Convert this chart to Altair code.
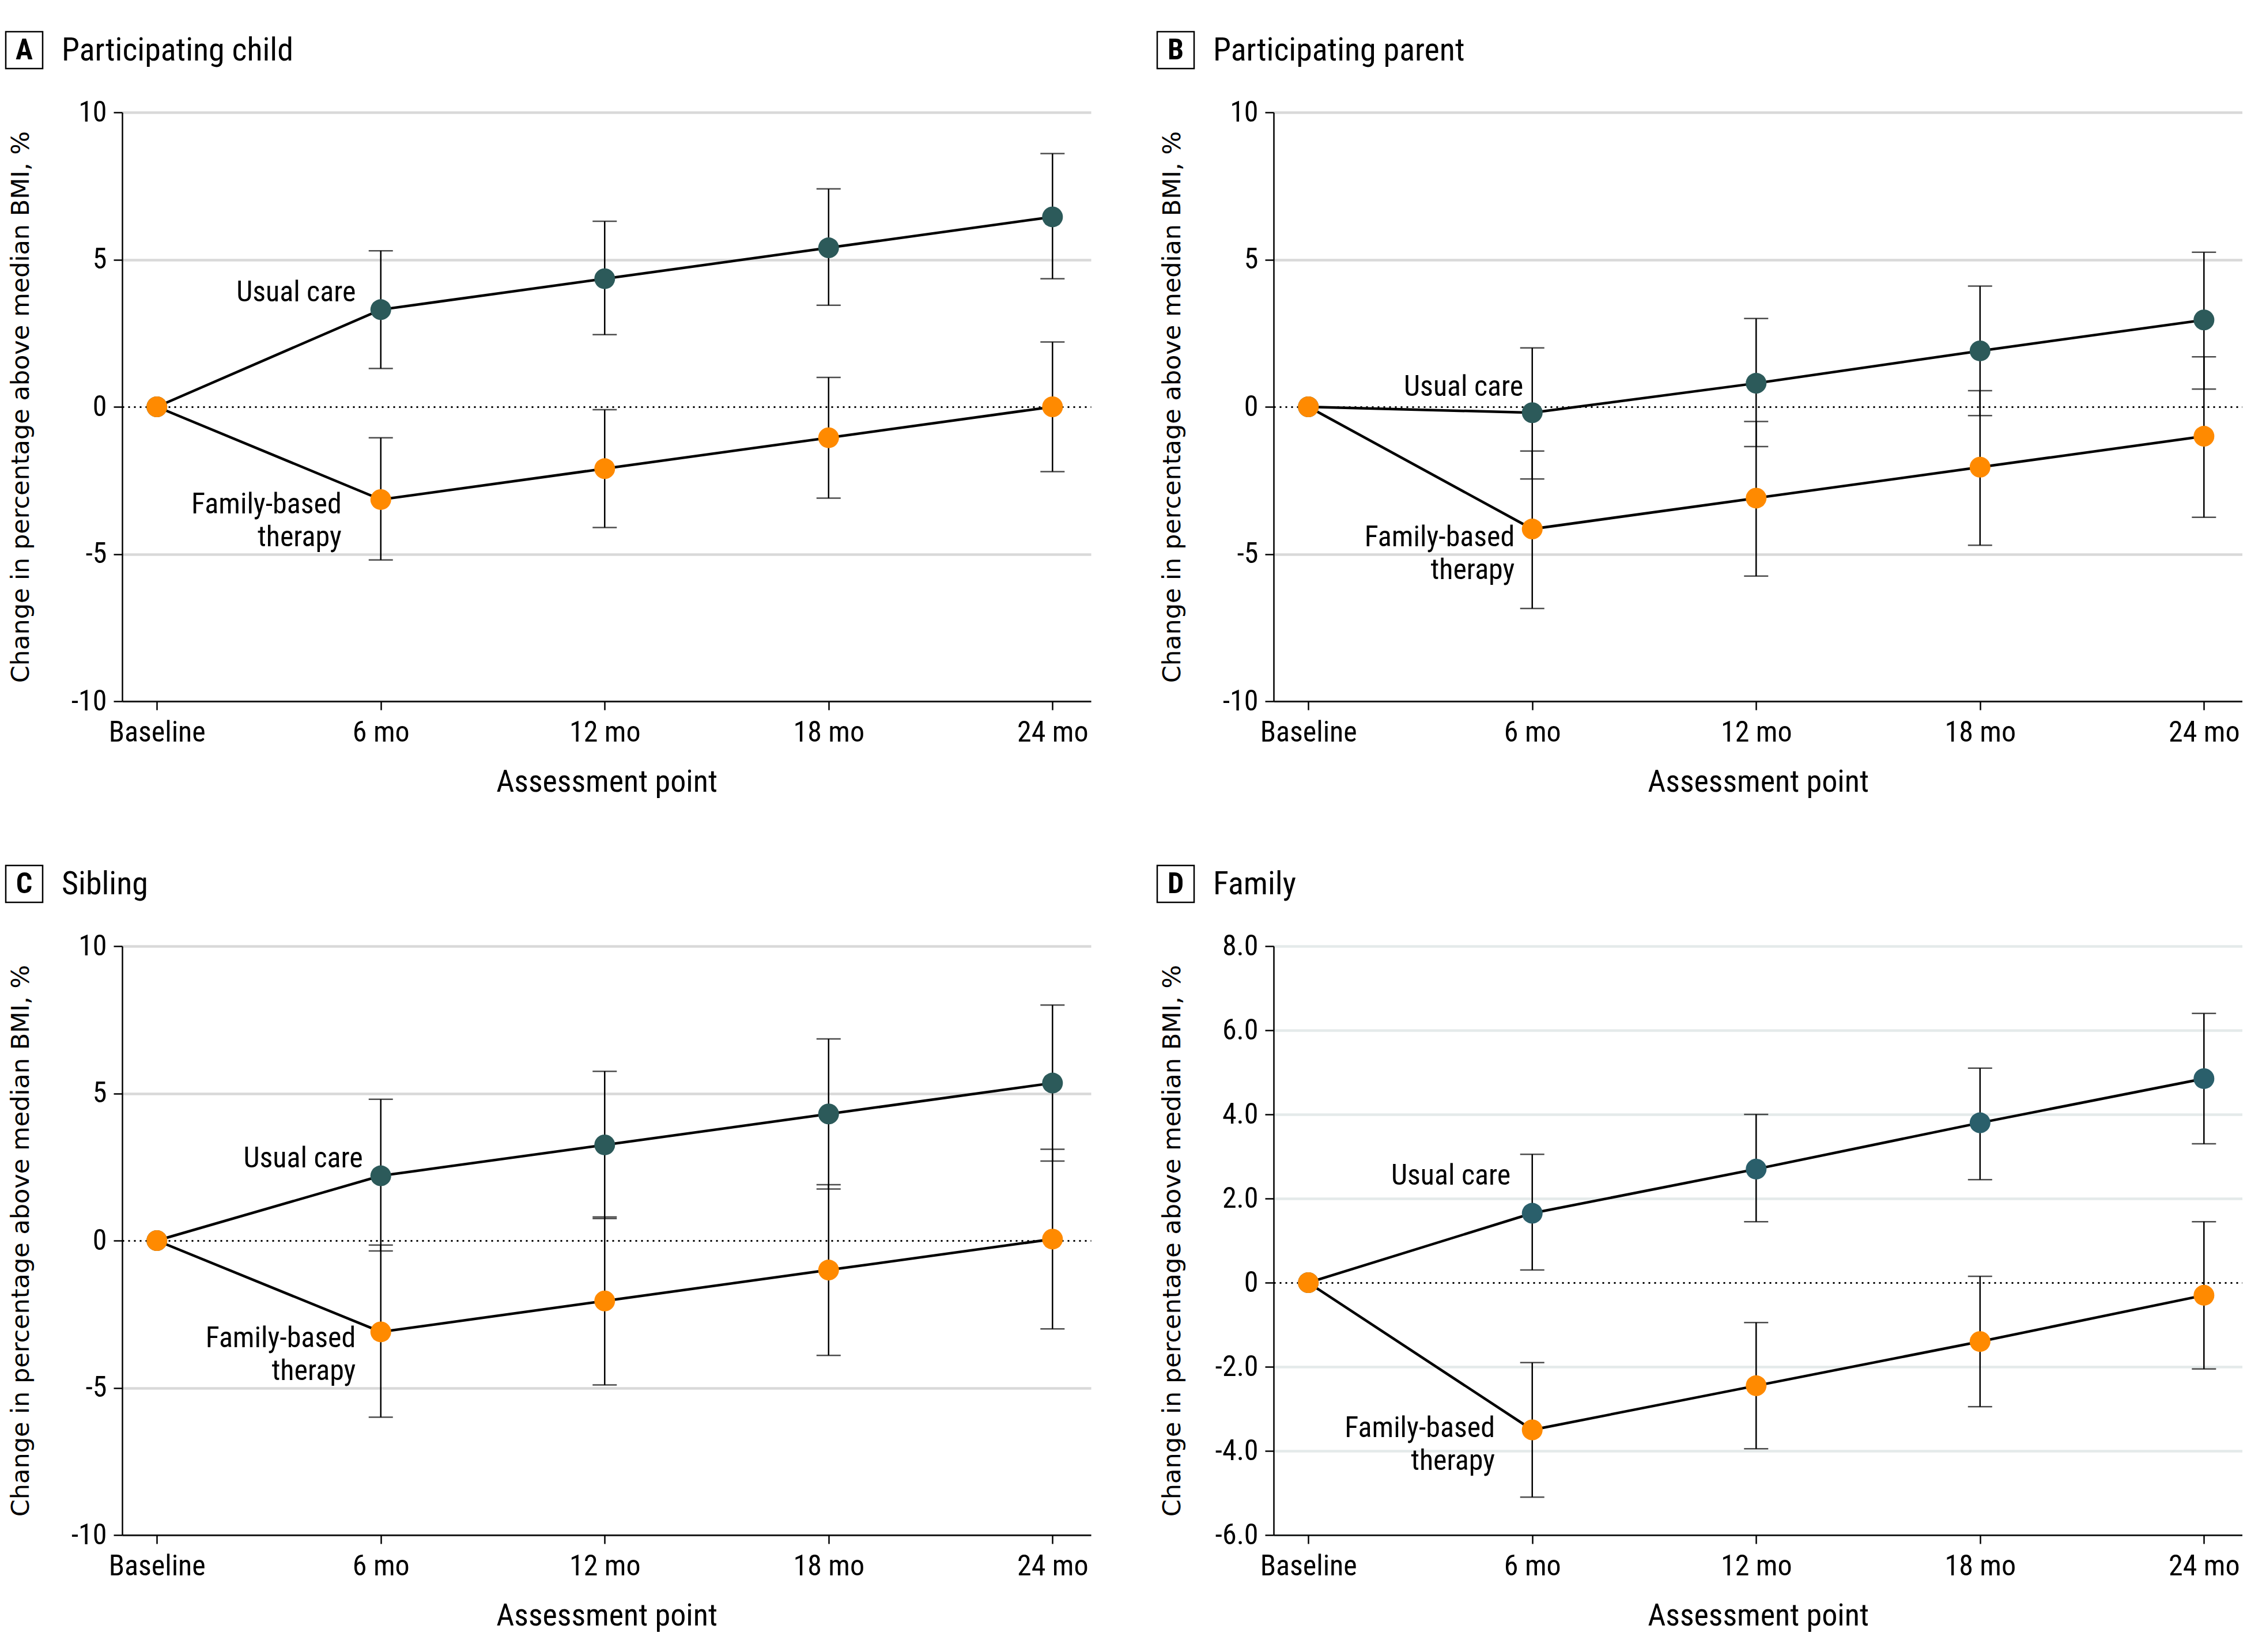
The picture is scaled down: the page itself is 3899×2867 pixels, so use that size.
import altair as alt
import pandas as pd

# ---------------- data ----------------
months = [6, 12, 18, 24]
tick_values = [0, 6, 12, 18, 24]
tick_labels = ["Baseline", "6 mo", "12 mo", "18 mo", "24 mo"]
groups = ["Usual care", "Family-based therapy"]

letters = ["A", "B", "C", "D"]
titles = ["Participating child", "Participating parent", "Sibling", "Family"]
y_title = "Change in percentage above median BMI, %"
x_title = "Assessment point"

# Panel A - participating child
a_uc = [3.3, 4.35, 5.4, 6.45]
a_uc_lo = [1.3, 2.45, 3.45, 4.35]
a_uc_hi = [5.3, 6.3, 7.4, 8.6]
a_fbt = [-3.15, -2.1, -1.05, 0.0]
a_fbt_lo = [-5.2, -4.1, -3.1, -2.2]
a_fbt_hi = [-1.05, -0.1, 1.0, 2.2]

# Panel B - participating parent
b_uc = [-0.2, 0.8, 1.9, 2.95]
b_uc_lo = [-2.45, -1.35, -0.3, 0.6]
b_uc_hi = [2.0, 3.0, 4.1, 5.25]
b_fbt = [-4.15, -3.1, -2.05, -1.0]
b_fbt_lo = [-6.85, -5.75, -4.7, -3.75]
b_fbt_hi = [-1.5, -0.5, 0.55, 1.7]

# Panel C - sibling
c_uc = [2.2, 3.25, 4.3, 5.35]
c_uc_lo = [-0.35, 0.75, 1.75, 2.7]
c_uc_hi = [4.8, 5.75, 6.85, 8.0]
c_fbt = [-3.1, -2.05, -1.0, 0.05]
c_fbt_lo = [-6.0, -4.9, -3.9, -3.0]
c_fbt_hi = [-0.15, 0.8, 1.9, 3.1]

# Panel D - family
d_uc = [1.65, 2.7, 3.8, 4.85]
d_uc_lo = [0.3, 1.45, 2.45, 3.3]
d_uc_hi = [3.05, 4.0, 5.1, 6.4]
d_fbt = [-3.5, -2.45, -1.4, -0.3]
d_fbt_lo = [-5.1, -3.95, -2.95, -2.05]
d_fbt_hi = [-1.9, -0.95, 0.15, 1.45]

# annotation anchors (month, value) for "Usual care" and "Family-based therapy"
a_lab = [(5.33, 3.87), (4.95, -3.89)]
b_lab = [(5.76, 0.67), (5.53, -5.0)]
c_lab = [(5.52, 2.78), (5.33, -3.88)]
d_lab = [(5.42, 2.54), (5.0, -3.86)]

# ---------------- style ----------------
COND = "'Liberation Sans Narrow', 'Roboto Condensed', 'DejaVu Sans Condensed', sans-serif"
WIDE = "DejaVu Sans, Verdana, sans-serif"
ORANGE = "#ff8a00"
W, H = 1681, 1022
TICK_FS = 50
LINE_H = 57

x_expr = "".join(
    f"datum.value == {v} ? '{t}' : " for v, t in zip(tick_values, tick_labels)
) + "''"
int_expr = "datum.value < 0 ? '-' + format(-datum.value, 'd') : format(datum.value, 'd')"
dec_expr = ("datum.value == 0 ? '0' : (datum.value < 0 ? '-' + format(-datum.value, '.1f') "
            ": format(datum.value, '.1f'))")

axis_common = dict(domainColor="black", domainWidth=2.5, tickColor="black", tickWidth=2.5,
                   tickSize=15, labelColor="black", titleColor="black", labelLimit=1000)


def panel(i, uc, uc_lo, uc_hi, fbt, fbt_lo, fbt_hi, lab, ydom, yticks, yexpr, teal, grid_color):
    rows = []
    for g, vals in zip(groups, [uc, fbt]):
        rows.append({"group": g, "month": 0, "value": 0.0})
        for m, v in zip(months, vals):
            rows.append({"group": g, "month": m, "value": v})
    series = pd.DataFrame(rows)

    erows = []
    for g, los, his in zip(groups, [uc_lo, fbt_lo], [uc_hi, fbt_hi]):
        for m, lo, hi in zip(months, los, his):
            erows.append({"group": g, "month": m, "lo": lo, "hi": hi})
    err = pd.DataFrame(erows)

    labels = pd.DataFrame({
        "group": groups,
        "text": [groups[0], groups[1].replace(" ", "\n")],
        "month": [p[0] for p in lab],
        "value": [p[1] for p in lab],
    })
    head = pd.DataFrame({"letter": [letters[i]], "title": [titles[i]]})

    xs = alt.Scale(domain=[-0.93, 25.03], nice=False, zero=False)
    ys = alt.Scale(domain=ydom, nice=False, zero=False)
    x_axis = alt.Axis(values=tick_values, labelExpr=x_expr, title=x_title, grid=False,
                      labelFont=COND, labelFontSize=TICK_FS, labelPadding=14,
                      titleFont=COND, titleFontSize=54, titleFontWeight="normal",
                      titleBaseline="middle", titleY=140, **axis_common)
    zero = "datum.value === 0"
    y_axis = alt.Axis(values=yticks, labelExpr=yexpr, title=y_title, grid=True,
                      gridColor={"condition": {"test": zero, "value": "black"}, "value": grid_color},
                      gridDash={"condition": {"test": zero, "value": [3, 7]}, "value": []},
                      gridWidth={"condition": {"test": zero, "value": 3}, "value": 4.5},
                      labelFont=COND, labelFontSize=TICK_FS, labelPadding=12,
                      titleFont=WIDE, titleFontSize=43, titleFontWeight="normal",
                      titleX=-154, titleY=H / 2, **axis_common)

    def X(f="month"):
        return alt.X(f"{f}:Q", scale=xs, axis=x_axis)

    def Y(f):
        return alt.Y(f"{f}:Q", scale=ys, axis=y_axis)

    color = alt.Color("group:N", scale=alt.Scale(domain=groups, range=[teal, ORANGE]), legend=None)

    bars = alt.Chart(err).mark_rule(color="black", strokeWidth=2.5).encode(
        x=X(), y=Y("lo"), y2="hi:Q")
    cap_lo = alt.Chart(err).mark_tick(color="black", orient="horizontal", size=42, thickness=2.5).encode(
        x=X(), y=Y("lo"))
    cap_hi = alt.Chart(err).mark_tick(color="black", orient="horizontal", size=42, thickness=2.5).encode(
        x=X(), y=Y("hi"))
    lines = alt.Chart(series).mark_line(color="black", strokeWidth=4.5).encode(
        x=X(), y=Y("value"), detail="group:N")
    pts = alt.Chart(series).mark_circle(size=1300, opacity=1).encode(
        x=X(), y=Y("value"), color=color)
    txt_uc = alt.Chart(labels).transform_filter(alt.datum.group == groups[0]).mark_text(
        align="right", baseline="middle", font=COND, fontSize=50, color="black").encode(
        x=X(), y=Y("value"), text="text:N")
    txt_fbt = alt.Chart(labels).transform_filter(alt.datum.group == groups[1]).mark_text(
        align="right", baseline="middle", lineBreak="\n", lineHeight=LINE_H, dy=-LINE_H / 2,
        font=COND, fontSize=50, color="black").encode(
        x=X(), y=Y("value"), text="text:N")

    box = alt.Chart(head).mark_rect(fill="white", stroke="black", strokeWidth=2.5).encode(
        x=alt.value(-202), x2=alt.value(-138), y=alt.value(-140), y2=alt.value(-76))
    let = alt.Chart(head).mark_text(font=COND, fontSize=50, fontWeight="bold", align="center",
                                    baseline="middle", color="black").encode(
        x=alt.value(-170), y=alt.value(-107), text="letter:N")
    ttl = alt.Chart(head).mark_text(font=COND, fontSize=56, align="left", baseline="middle",
                                    color="black").encode(
        x=alt.value(-105), y=alt.value(-107), text="title:N")

    return alt.layer(bars, cap_lo, cap_hi, lines, pts, txt_uc, txt_fbt, box, let, ttl).properties(
        width=W, height=H)


TEAL = "#2c5a5a"
TEAL_D = "#2a5f6b"
GRID = "#d9d9d9"
GRID_D = "#e4eaea"
ten = [-10, -5, 0, 5, 10]

pA = panel(0, a_uc, a_uc_lo, a_uc_hi, a_fbt, a_fbt_lo, a_fbt_hi, a_lab, [-10, 10], ten, int_expr, TEAL, GRID)
pB = panel(1, b_uc, b_uc_lo, b_uc_hi, b_fbt, b_fbt_lo, b_fbt_hi, b_lab, [-10, 10], ten, int_expr, TEAL, GRID)
pC = panel(2, c_uc, c_uc_lo, c_uc_hi, c_fbt, c_fbt_lo, c_fbt_hi, c_lab, [-10, 10], ten, int_expr, TEAL, GRID)
pD = panel(3, d_uc, d_uc_lo, d_uc_hi, d_fbt, d_fbt_lo, d_fbt_hi, d_lab, [-6, 8],
           [-6, -4, -2, 0, 2, 4, 6, 8], dec_expr, TEAL_D, GRID_D)

ind = dict(x="independent", y="independent", color="independent")
top = alt.hconcat(pA, pB, spacing=113).resolve_scale(**ind)
bottom = alt.hconcat(pC, pD, spacing=113).resolve_scale(**ind)
chart = alt.vconcat(top, bottom, spacing=116).resolve_scale(**ind).properties(
    background="white", padding={"top": 45, "left": 0, "right": 0, "bottom": 5}
).configure_view(strokeWidth=0)

chart.save("out.html", embed_options={"renderer": "svg", "actions": False})
